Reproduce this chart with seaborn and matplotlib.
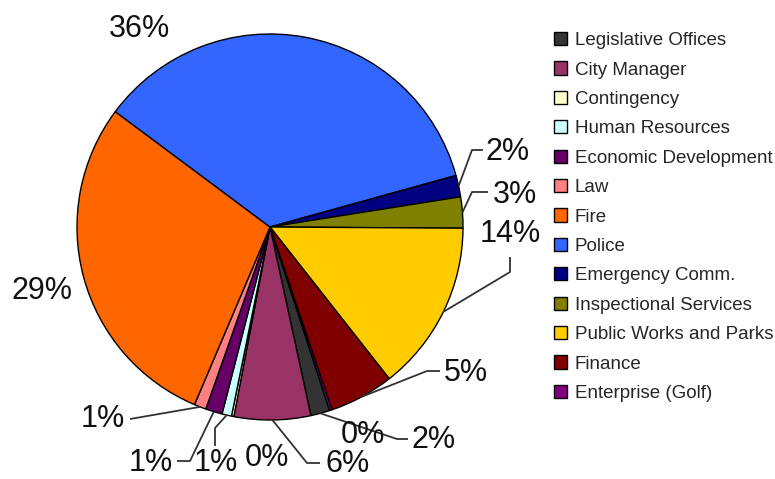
import matplotlib
matplotlib.use("Agg")
import matplotlib.pyplot as plt
from matplotlib.patches import Patch
import numpy as np
import seaborn as sns

sns.set_style("white")
plt.rcParams["font.family"] = ["Liberation Sans", "DejaVu Sans"]

categories = ["Legislative Offices", "City Manager", "Contingency", "Human Resources",
              "Economic Development", "Law", "Fire", "Police", "Emergency Comm.",
              "Inspectional Services", "Public Works and Parks", "Finance", "Enterprise (Golf)"]
values = [1.6, 6.4, 0.2, 0.8, 1.4, 1.0, 28.8, 35.5, 1.8, 2.6, 14.3, 5.4, 0.2]
colors = ["#333333", "#993366", "#FFFFCC", "#CCFFFF", "#660066", "#FF8080", "#FF6600",
          "#3366FF", "#000080", "#808000", "#FFCC00", "#800000", "#800080"]

W, H = 775, 479
fig = plt.figure(figsize=(W / 100, H / 100), dpi=100)
ax = fig.add_axes([0, 0, 1, 1])

cx, cy, R = 270, H - 227, 193
wedges, _ = ax.pie(values, colors=colors, startangle=-72, counterclock=False,
                   center=(cx, cy), radius=R, frame=False,
                   wedgeprops=dict(edgecolor="black", linewidth=1.0))
ax.set_xlim(0, W)
ax.set_ylim(0, H)
ax.set_aspect("equal")
ax.axis("off")

def img(x, y):
    return x, H - y

# label layout: text centre (image px), leader elbow, leader end (None = no leader)
layout = {
    "Legislative Offices": ((434, 440), (397, 439), (408, 439)),
    "City Manager": ((348, 464), (307, 463), (320, 463)),
    "Contingency": ((267, 458), None, None),
    "Human Resources": ((216, 463), (215, 428), (215, 446)),
    "Economic Development": ((151, 463), (190, 461), (177, 461)),
    "Law": ((103, 419), (130, 419), (130, 419)),
    "Fire": ((42, 291), None, None),
    "Police": ((139, 29), None, None),
    "Emergency Comm.": ((508, 152), (472, 150), (483, 150)),
    "Inspectional Services": ((515, 195), (472, 192), (488, 192)),
    "Public Works and Parks": ((510, 234), (510, 272), (510, 257)),
    "Finance": ((466, 373), (427, 371), (440, 371)),
    "Enterprise (Golf)": ((363, 435), None, None),
}

total = sum(values)
for w, cat, v in zip(wedges, categories, values):
    (tx, ty), elbow, end = layout[cat]
    ax.text(*img(tx, ty), f"{100 * v / total:.0f}%", ha="center", va="center",
            fontsize=22, color="#111111")
    if elbow is not None:
        mid = np.deg2rad((w.theta1 + w.theta2) / 2)
        ax0 = cx + R * np.cos(mid)
        ay0 = cy + R * np.sin(mid)
        ex, ey = img(*elbow)
        fx, fy = img(*end)
        ax.plot([ax0, ex, fx], [ay0, ey, fy], color="#333333", lw=1.3,
                solid_capstyle="butt")

handles = [Patch(facecolor=c, edgecolor="black", linewidth=1.0) for c in colors]
fig.legend(handles, categories, loc="upper left", bbox_to_anchor=(554 / W, 1 - 32 / H),
           frameon=False, fontsize=13.5, handlelength=0.7, handleheight=0.7,
           handletextpad=0.4, labelspacing=0.655, borderpad=0, borderaxespad=0)

fig.savefig("out.png", dpi=100)
